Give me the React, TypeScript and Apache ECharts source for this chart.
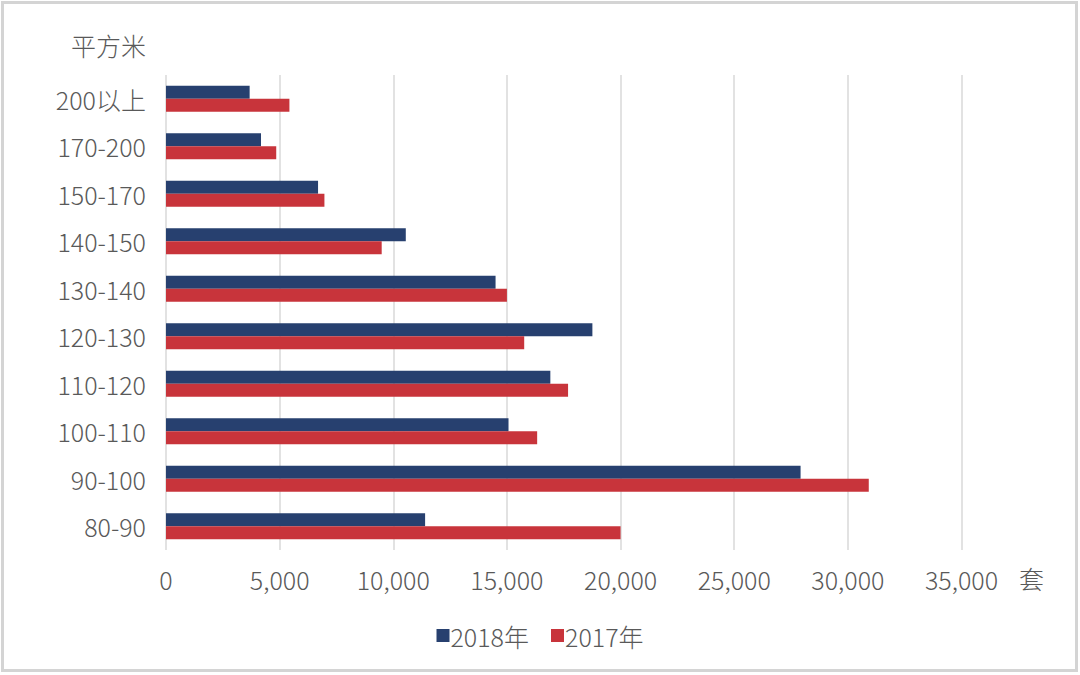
import { useEffect, useRef } from "react";
import * as echarts from "echarts";

const CATEGORIES = ["80-90", "90-100", "100-110", "110-120", "120-130", "130-140", "140-150", "150-170", "170-200", "200以上"];
const SERIES_NAMES = ["2018年", "2017年"];
const VALUES_2018 = [11400, 27920, 15070, 16910, 18760, 14500, 10550, 6690, 4180, 3680];
const VALUES_2017 = [20000, 30920, 16330, 17690, 15760, 15000, 9490, 6970, 4850, 5430];
const COLORS = ["#27406F", "#C8343B"];

const FONT = "'Noto Sans CJK SC', 'Noto Sans', sans-serif";
const TEXT = "#595959";
const WEIGHT = 300;

export default function App() {
  const ref = useRef<HTMLDivElement>(null);
  useEffect(() => {
    if (!ref.current) return;
    const chart = echarts.init(ref.current, undefined, { renderer: "svg" });
    const option: echarts.EChartsOption = {
      animation: false,
      backgroundColor: "#fff",
      textStyle: { fontFamily: FONT, fontWeight: WEIGHT },
      grid: { left: 166, right: 118.5, top: 75, bottom: 125 },
      legend: {
        data: SERIES_NAMES,
        bottom: 22,
        left: "center",
        itemWidth: 13,
        itemHeight: 13,
        itemGap: 22,
        icon: "rect",
        textStyle: { fontSize: 25, color: TEXT, fontFamily: FONT, fontWeight: WEIGHT, padding: [0, 0, 0, -4] },
      },
      xAxis: {
        type: "value",
        min: 0,
        max: 35000,
        interval: 5000,
        axisLine: { show: false },
        axisTick: { show: false },
        splitLine: { lineStyle: { color: "#D9D9D9", width: 1.5 } },
        axisLabel: {
          fontSize: 25,
          color: TEXT,
          fontWeight: WEIGHT,
          margin: 16,
          formatter: (v: number) => v.toLocaleString("en-US"),
        },
      },
      yAxis: {
        type: "category",
        data: CATEGORIES,
        name: "平方米",
        nameLocation: "end",
        nameGap: 18,
        nameTextStyle: { fontSize: 25, color: TEXT, fontWeight: WEIGHT, align: "right", padding: [0, 20, 0, 0] },
        axisLine: { show: false },
        axisTick: { show: false },
        axisLabel: { fontSize: 25, color: TEXT, fontWeight: WEIGHT, margin: 20 },
      },
      series: [
        {
          name: SERIES_NAMES[0],
          type: "bar",
          data: VALUES_2018,
          barWidth: 13,
          barGap: "0%",
          itemStyle: { color: COLORS[0] },
        },
        {
          name: SERIES_NAMES[1],
          type: "bar",
          data: VALUES_2017,
          barWidth: 13,
          barGap: "0%",
          itemStyle: { color: COLORS[1] },
        },
      ],
      graphic: [
        {
          type: "rect",
          shape: { x: 2.5, y: 2.5, width: 1074, height: 668 },
          style: { fill: "none", stroke: "#D4D4D4", lineWidth: 3 },
          silent: true,
        },
        {
          type: "text",
          left: 1019,
          top: 565,
          style: { text: "套", fontSize: 25, fill: TEXT, fontFamily: FONT, fontWeight: WEIGHT },
        },
      ],
    };
    chart.setOption(option);
    return () => chart.dispose();
  }, []);
  return (
    <div style={{ position: "absolute", left: 0, top: 0 }}>
      <div ref={ref} style={{ width: 1080, height: 675 }} />
    </div>
  );
}
